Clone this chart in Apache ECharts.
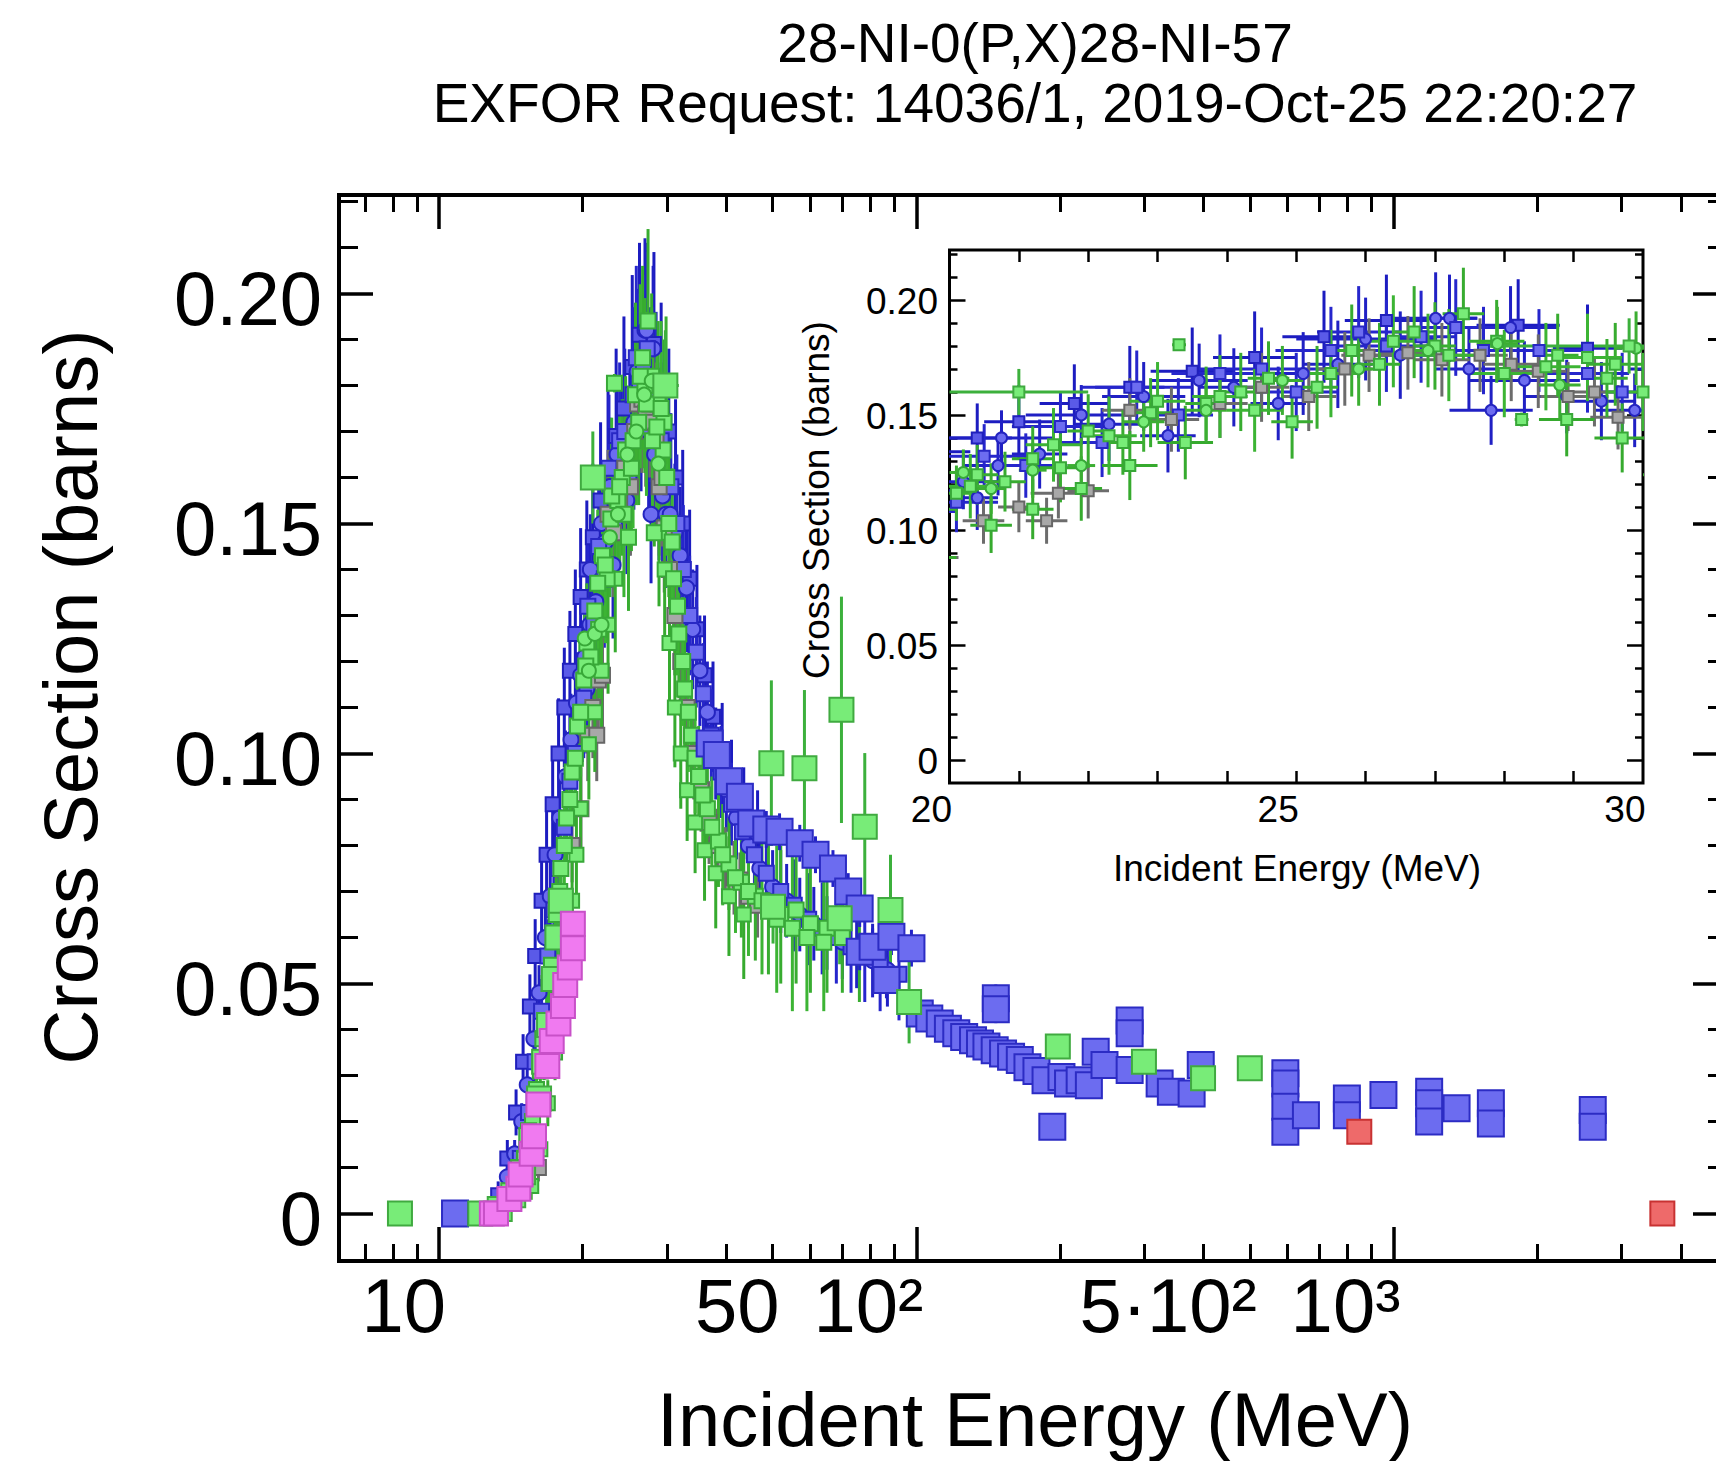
<!DOCTYPE html>
<html>
<head>
<meta charset="utf-8">
<script src="https://cdn.jsdelivr.net/npm/echarts@6/dist/echarts.min.js"></script>
<style>
html,body{margin:0;padding:0;background:#fff;}
#chart{width:1716px;height:1461px;}
</style>
</head>
<body>
<div id="chart"></div>
<script>
// ---------------- texts ----------------
const titleLines = ['28-NI-0(P,X)28-NI-57', 'EXFOR Request: 14036/1, 2019-Oct-25 22:20:27'];
const xAxisTitle = 'Incident Energy (MeV)';
const yAxisTitle = 'Cross Section (barns)';

// ---------------- tick values / labels ----------------
const xTickValues = [10, 50, 100, 500, 1000];
const xTickLabels = ['10', '50', '10²', '5·10²', '10³'];
const xMajorTicks = [10, 100, 1000];
const xMinorTicks = [7, 8, 9, 20, 30, 40, 50, 60, 70, 80, 90, 200, 300, 400, 500, 600, 700, 800, 900, 2000, 3000, 4000];
const yTickValues = [0, 0.05, 0.10, 0.15, 0.20];
const yTickLabels = ['0', '0.05', '0.10', '0.15', '0.20'];
const yMinorTicks = [0.01, 0.02, 0.03, 0.04, 0.06, 0.07, 0.08, 0.09, 0.11, 0.12, 0.13, 0.14, 0.16, 0.17, 0.18, 0.19, 0.21, 0.22];
const insetXTickValues = [20, 25, 30];
const insetXTickLabels = ['20', '25', '30'];
const insetXMinorTicks = [21, 22, 23, 24, 25, 26, 27, 28, 29];

// ---------------- data: [E (MeV), sigma (b), dSigma, dE] ----------------
const blueDense = [
  [13.9,0.008,0.003,0.3],[14.4,0.013,0.003,0.3],[14.9,0.020,0.004,0.3],[15.3,0.028,0.005,0.3],
  [15.8,0.038,0.006,0.3],[16.2,0.048,0.006,0.3],[16.7,0.060,0.007,0.3],[17.1,0.069,0.008,0.3],
  [17.5,0.078,0.008,0.3],[17.9,0.086,0.009,0.3],[18.4,0.095,0.010,0.3],[18.9,0.103,0.010,0.3],
  [19.4,0.111,0.011,0.4],[19.8,0.117,0.011,0.4],[20.2,0.121,0.012,0.5],[20.4,0.114,0.014,0.3],
  [20.75,0.140,0.012,0.75],[20.7,0.128,0.013,0.5],[21.3,0.133,0.015,0.4],[21.9,0.150,0.013,0.8],
  [22.3,0.146,0.016,0.5],[22.8,0.158,0.015,0.6],[23.15,0.141,0.016,0.4],[23.6,0.165,0.016,0.7],
  [24.1,0.162,0.017,0.5],[24.74,0.155,0.016,0.4],[25.1,0.168,0.018,0.6],[25.6,0.172,0.019,0.5],
  [26.0,0.183,0.018,1.0],[26.5,0.176,0.019,0.5],[27.01,0.192,0.020,0.6],[27.21,0.192,0.019,0.4],
  [27.49,0.170,0.018,0.5],[27.81,0.152,0.015,0.6],[28.09,0.188,0.018,0.7],[28.29,0.165,0.017,0.8],
  [28.9,0.158,0.016,0.6],[29.4,0.156,0.017,0.5],[29.88,0.152,0.016,0.6],[30.5,0.152,0.016,0.5],
  [31.2,0.148,0.015,0.5],[32.0,0.143,0.015,0.5],[33.0,0.136,0.014,0.5],[34.0,0.127,0.013,0.5],
  [35.2,0.118,0.012,0.5],[36.5,0.109,0.011,0.5],[38.0,0.100,0.010,0.5],[40.0,0.092,0.009,0.5],
  [42.0,0.086,0.009,0.5],[44.5,0.080,0.008,0.5],[47.0,0.075,0.008,0.5],[50.0,0.071,0.008,0.5],
  [53.5,0.068,0.008,0.5],[57.0,0.065,0.008,0.5],[61.0,0.063,0.008,0.5],[65.0,0.061,0.008,0.5],
  [70.0,0.059,0.008,0.5],[75.0,0.057,0.008,0.5],[81.0,0.055,0.008,0.5],[87.0,0.053,0.008,0.5]
];
const blueDense2 = [
  [14.2,0.004,0.003,0.2],[14.8,0.012,0.004,0.2],[15.4,0.022,0.005,0.2],[15.9,0.033,0.006,0.2],
  [16.4,0.044,0.007,0.3],[16.9,0.056,0.008,0.3],[17.4,0.066,0.009,0.3],[17.8,0.075,0.009,0.3],
  [18.3,0.084,0.010,0.3],[18.8,0.094,0.011,0.3],[19.3,0.100,0.012,0.3],[19.7,0.108,0.012,0.4],
  [20.1,0.112,0.013,0.6],[20.5,0.132,0.014,0.8],[21.1,0.128,0.014,0.6],[21.6,0.145,0.015,0.7],
  [22.2,0.138,0.015,0.6],[22.7,0.162,0.016,0.8],[23.3,0.150,0.016,0.5],[23.9,0.168,0.017,0.7],
  [24.5,0.170,0.018,0.9],[25.0,0.160,0.017,0.6],[25.5,0.178,0.019,0.8],[25.9,0.186,0.020,0.6],
  [26.3,0.180,0.020,0.7],[26.8,0.184,0.020,0.5],[27.3,0.188,0.021,0.6],[27.7,0.178,0.019,0.5],
  [28.5,0.178,0.018,0.7],[29.2,0.168,0.017,0.6],[29.7,0.160,0.017,0.5],[30.6,0.158,0.016,0.4],
  [31.5,0.150,0.015,0.4],[32.5,0.140,0.014,0.4],[33.5,0.130,0.013,0.4],[34.6,0.122,0.012,0.4],
  [35.8,0.113,0.011,0.4],[37.2,0.104,0.010,0.4],[39.0,0.096,0.010,0.4],[41.0,0.089,0.009,0.5],
  [43.2,0.083,0.009,0.5],[45.8,0.078,0.009,0.5],[48.5,0.074,0.009,0.5],[52.0,0.070,0.009,0.5],
  [55.5,0.067,0.010,0.5],[59.5,0.064,0.010,0.5],[63.5,0.062,0.010,0.5],[68.0,0.060,0.010,0.5],
  [73.0,0.058,0.010,0.5],[78.0,0.056,0.010,0.5],[84.0,0.054,0.010,0.5],[92.0,0.052,0.010,0.5]
];
const blueEdge = [
  [13.3,0.004,0.003,0.3],[13.9,0.012,0.004,0.3],[14.5,0.022,0.005,0.3],[15.0,0.033,0.006,0.3],
  [15.5,0.045,0.007,0.3],[15.9,0.056,0.008,0.3],[16.4,0.068,0.009,0.3],[16.8,0.078,0.010,0.3],
  [17.3,0.089,0.011,0.3],[17.8,0.100,0.012,0.4],[18.3,0.110,0.013,0.4],[18.8,0.118,0.013,0.4],
  [19.3,0.126,0.014,0.4],[19.8,0.134,0.015,0.5],[20.4,0.140,0.015,0.5],[21.0,0.147,0.016,0.5],
  [21.8,0.155,0.017,0.5],[22.6,0.162,0.018,0.5],[23.5,0.169,0.019,0.6],[24.4,0.175,0.020,0.6],
  [25.4,0.184,0.020,0.6],[26.3,0.191,0.020,0.6],[28.2,0.189,0.020,0.6],[29.2,0.179,0.019,0.5],
  [30.3,0.170,0.018,0.5],[31.3,0.160,0.017,0.5],[32.4,0.150,0.016,0.5],[33.5,0.138,0.015,0.5],
  [34.7,0.127,0.014,0.5],[36.0,0.117,0.013,0.5],[37.5,0.108,0.012,0.5],[39.2,0.100,0.011,0.5],
  [41.0,0.093,0.010,0.5],[43.5,0.087,0.010,0.5],[46.5,0.082,0.010,0.5]
];
const grayDense = [
  [16.15,0.010,0.003,0.2],[17.6,0.068,0.007,0.2],[19.0,0.080,0.008,0.3],[19.83,0.088,0.009,0.3],
  [20.49,0.104,0.010,0.3],[21.0,0.110,0.011,0.3],[21.4,0.104,0.010,0.3],[21.57,0.116,0.011,0.4],
  [22.0,0.117,0.012,0.3],[22.6,0.152,0.014,0.4],[23.2,0.148,0.014,0.4],[23.9,0.155,0.015,0.4],
  [24.5,0.162,0.015,0.4],[25.18,0.158,0.015,0.4],[25.7,0.170,0.016,0.4],[26.05,0.176,0.016,0.4],
  [26.61,0.177,0.016,0.4],[27.1,0.174,0.016,0.4],[27.65,0.176,0.016,0.4],[28.1,0.172,0.016,0.4],
  [28.49,0.169,0.016,0.4],[28.92,0.158,0.015,0.4],[29.3,0.160,0.015,0.4],[29.64,0.149,0.014,0.4],
  [30.4,0.140,0.014,0.4],[31.2,0.130,0.013,0.4],[32.1,0.120,0.012,0.4],[33.1,0.110,0.011,0.4],
  [34.2,0.100,0.010,0.4],[35.4,0.092,0.009,0.4],[36.8,0.085,0.009,0.4],[38.2,0.080,0.008,0.4],
  [39.8,0.076,0.008,0.4],[41.5,0.073,0.008,0.4],[42.7,0.0725,0.006,0.5],[44.5,0.069,0.007,0.5],
  [46.5,0.067,0.007,0.5]
];
const greenDense = [
  [12.8,0.000,0.002,0.2],[13.6,0.002,0.002,0.2],[14.4,0.006,0.003,0.2],[15.1,0.012,0.004,0.2],
  [15.7,0.020,0.005,0.2],[16.3,0.031,0.006,0.2],[16.8,0.042,0.007,0.2],[17.2,0.054,0.008,0.2],
  [17.6,0.065,0.008,0.2],[18.0,0.075,0.009,0.2],[18.5,0.086,0.010,0.2],[19.0,0.096,0.011,0.2],
  [19.5,0.106,0.012,0.2],[20.1,0.116,0.012,0.3],[20.4,0.124,0.013,0.3],[20.8,0.121,0.013,0.3],
  [21.2,0.131,0.014,0.3],[21.6,0.127,0.015,0.3],[22.0,0.143,0.016,0.3],[22.5,0.138,0.014,0.3],
  [22.9,0.151,0.015,0.3],[23.31,0.1805,0.002,0.1],[23.7,0.155,0.016,0.3],[24.2,0.160,0.017,0.3],
  [24.6,0.166,0.016,0.3],[24.94,0.147,0.016,0.3],[25.3,0.162,0.018,0.3],[25.8,0.178,0.020,0.3],
  [26.2,0.172,0.018,0.3],[26.7,0.186,0.020,0.3],[27.0,0.180,0.019,0.3],[27.41,0.194,0.020,0.3],
  [27.89,0.182,0.018,0.4],[28.25,0.148,0.003,0.1],[28.77,0.176,0.018,0.3],[29.48,0.166,0.017,0.3],
  [29.6,0.172,0.018,0.4],[30.3,0.150,0.016,0.3],[31.0,0.138,0.015,0.3],[31.8,0.126,0.014,0.3],
  [32.7,0.114,0.013,0.3],[33.8,0.104,0.012,0.3],[35.0,0.095,0.011,0.3],[36.5,0.088,0.010,0.3],
  [38.5,0.081,0.010,0.3],[40.5,0.076,0.010,0.3],[43.0,0.072,0.012,0.3],[46.0,0.069,0.014,0.4],
  [49.0,0.067,0.015,0.4],[52.0,0.065,0.015,0.4],[56.0,0.066,0.016,0.4],[60.0,0.063,0.015,0.4],
  [65.0,0.062,0.014,0.4],[70.0,0.060,0.012,0.4],[76.0,0.058,0.012,0.4]
];
const greenDense2 = [
  [13.2,0.001,0.002,0.2],[14.0,0.004,0.003,0.2],[14.7,0.010,0.004,0.2],[15.4,0.018,0.005,0.2],
  [16.0,0.027,0.006,0.2],[16.5,0.038,0.007,0.2],[17.0,0.050,0.008,0.2],[17.5,0.061,0.009,0.2],
  [17.9,0.070,0.010,0.3],[18.3,0.080,0.011,0.3],[18.8,0.090,0.012,0.3],[19.3,0.099,0.013,0.3],
  [19.8,0.109,0.014,0.3],[20.3,0.119,0.014,0.4],[21.5,0.137,0.016,0.4],[22.3,0.141,0.017,0.4],
  [23.0,0.156,0.017,0.4],[23.9,0.158,0.018,0.4],[24.4,0.152,0.018,0.4],[25.5,0.168,0.019,0.4],
  [26.4,0.182,0.020,0.5],[27.2,0.176,0.020,0.5],[28.0,0.168,0.019,0.5],[28.6,0.171,0.019,0.5],
  [29.2,0.175,0.019,0.5],[30.0,0.160,0.017,0.5],[30.8,0.146,0.016,0.4],[31.6,0.132,0.015,0.4],
  [32.4,0.120,0.014,0.4],[33.3,0.109,0.013,0.4],[34.4,0.099,0.012,0.4],[35.7,0.091,0.011,0.4],
  [37.3,0.084,0.011,0.4],[39.3,0.078,0.011,0.4],[41.8,0.073,0.012,0.4],[44.5,0.070,0.014,0.4],
  [47.5,0.068,0.016,0.4],[51.0,0.064,0.016,0.4],[55.0,0.062,0.018,0.4],[59.0,0.060,0.016,0.4],
  [64.0,0.059,0.015,0.4]
];
const greenEdge = [
  [15.6,0.006,0.003,0.2],[16.3,0.014,0.004,0.2],[16.9,0.024,0.005,0.2],[17.5,0.035,0.006,0.2],
  [18.0,0.046,0.007,0.3],[18.5,0.057,0.008,0.3],[19.0,0.068,0.009,0.3],[19.4,0.078,0.010,0.3],
  [19.8,0.088,0.011,0.3],[20.6,0.102,0.012,0.3],[21.2,0.109,0.013,0.3],[21.9,0.118,0.014,0.3],
  [22.6,0.128,0.015,0.4],[23.4,0.138,0.016,0.4],[28.9,0.148,0.016,0.4],[29.7,0.140,0.015,0.4],
  [30.4,0.124,0.014,0.4],[31.2,0.110,0.013,0.4],[32.1,0.100,0.012,0.4],[33.1,0.092,0.011,0.4],
  [34.4,0.085,0.011,0.4],[36.0,0.079,0.011,0.4],[38.0,0.074,0.012,0.4],[40.5,0.069,0.013,0.4],
  [43.5,0.065,0.014,0.4]
];
const greenCircles = [
  [20.2,0.125,0.010,0.2],[20.6,0.118,0.011,0.2],[21.2,0.126,0.012,0.2],[21.9,0.128,0.012,0.2],
  [22.8,0.147,0.013,0.3],[23.7,0.152,0.014,0.3],[24.8,0.165,0.015,0.3],[25.9,0.170,0.016,0.3],
  [26.9,0.178,0.016,0.3],[27.9,0.181,0.016,0.3],[28.8,0.163,0.015,0.3],[29.9,0.179,0.016,0.3]
];
const blueBig = [
  [10.8,0.000,0.001,0.6],[36.9,0.1022,0.004,0],[38.2,0.0997,0.004,0],[40.5,0.0940,0.004,0],
  [42.7,0.0906,0.004,0],[45.1,0.0848,0.004,0],[48.5,0.0835,0.004,0],[51.7,0.0830,0.004,0],
  [57.0,0.0805,0.004,0],[61.5,0.0780,0.004,0],[66.9,0.0750,0.004,0],[72.0,0.0700,0.004,0],
  [76.1,0.0663,0.004,0],[76.1,0.0569,0.004,0],[81.0,0.0580,0.004,0],[86.6,0.0508,0.004,0],
  [88.7,0.0602,0.004,0],[97.7,0.0577,0.004,0],[101.7,0.0435,0.002,0],[106.5,0.0424,0.002,0],
  [112,0.0413,0.002,0],[116.5,0.0402,0.002,0],[121.3,0.0392,0.002,0],[126,0.0384,0.002,0],
  [131.5,0.0377,0.002,0],[136,0.0370,0.002,0],[140.3,0.0363,0.002,0],[146.8,0.0468,0.003,0],
  [146.8,0.0444,0.003,0],[146,0.0355,0.002,0],[152,0.0348,0.002,0],[158,0.0341,0.002,0],
  [164.8,0.0334,0.002,0],[171,0.0318,0.002,0],[178.6,0.0310,0.002,0],[186.6,0.0290,0.002,0],
  [192.8,0.0189,0.002,0],[201.5,0.0297,0.002,0],[208,0.0283,0.002,0],[220,0.0290,0.002,0],
  [230,0.0279,0.002,0],[237.7,0.0352,0.002,0],[248,0.0323,0.002,0],[280,0.0420,0.002,0],
  [280,0.0392,0.002,0],[280,0.0312,0.002,0],[323.6,0.0283,0.002,0],[341.6,0.0265,0.002,0],
  [377.6,0.0261,0.002,0],[394.6,0.0323,0.002,0],[593.6,0.0305,0.002,0],[593.6,0.0283,0.002,0],
  [593.6,0.0232,0.002,0],[593.6,0.0178,0.002,0],[655.5,0.0214,0.002,0],[798.7,0.0250,0.002,0],
  [798.7,0.0214,0.002,0],[952.8,0.0258,0.002,0],[1188,0.0265,0.002,0],[1188,0.0240,0.002,0],
  [1188,0.0200,0.002,0],[1356,0.0229,0.002,0],[1600,0.0240,0.002,0],[1600,0.0196,0.002,0],
  [2616,0.0225,0.002,0],[2616,0.0189,0.002,0]
];
const greenBig = [
  [8.28,0.000,0.001,0],[12.2,0.000,0.001,0],[13.4,0.001,0.001,0],[14.3,0.004,0.002,0],
  [15.0,0.009,0.002,0],[15.6,0.016,0.003,0],[16.2,0.025,0.003,0],[16.6,0.033,0.004,0],
  [17.0,0.041,0.004,0],[17.4,0.051,0.005,0],[17.7,0.060,0.005,0],[18.0,0.068,0.006,0],
  [21.0,0.160,0.010,1.0],[29.8,0.180,0.012,2.0],[49.7,0.0979,0.018,0],[50.1,0.0667,0.008,0],
  [58.3,0.0968,0.017,0],[69.1,0.0642,0.010,0],[69.7,0.1095,0.0246,0],[78.0,0.0841,0.016,0],
  [88.3,0.0660,0.012,0],[96.6,0.0460,0.009,0],[198,0.0363,0.002,0],[300,0.0330,0.002,0],
  [399,0.0294,0.003,0],[500,0.0316,0.002,0]
];
const magentaSet = [
  [12.9,0.000,0.001,0],[13.16,0.000,0.001,0],[14.04,0.0032,0.001,0],[14.66,0.0054,0.001,0],
  [14.82,0.0085,0.001,0],[15.63,0.0130,0.001,0],[15.81,0.0168,0.001,0],[16.15,0.0237,0.001,0],
  [16.86,0.0321,0.002,0],[17.22,0.0375,0.002,0],[17.79,0.0413,0.002,0],[18.18,0.0451,0.002,0],
  [18.38,0.0497,0.002,0],[18.79,0.0535,0.002,0],[19.07,0.0577,0.002,0],[19.07,0.0630,0.002,0]
];
const redSet = [[848,0.0178,0.001,0],[3660,0.000,0.001,0]];

// ---------------- styling / build ----------------
const FF = '"Liberation Sans", Arial, Helvetica, sans-serif';
const X_MIN = 6.17, X_MAX = 5000;
const Y_MIN = -0.0103, Y_MAX = 0.2214;
const IY_MIN = -0.0100, IY_MAX = 0.2217;
const L10 = v => Math.log10(v);

const styles = [
  {data: blueEdge,    line:'#1c1cc0', fill:'#5a5ae8', border:'#2020bc', symbol:'rect',   size:14},
  {data: blueDense,   line:'#2020c4', fill:'#6c6cf0', border:'#2424c0', symbol:'circle', size:15},
  {data: blueDense2,  line:'#2626cc', fill:'#6c6cf0', border:'#2828c4', symbol:'rect',   size:15},
  {data: grayDense,   line:'#6c6c6c', fill:'#a8a8a8', border:'#666666', symbol:'rect',   size:15},
  {data: greenEdge,   line:'#36aa2e', fill:'#78ec78', border:'#38a838', symbol:'rect',   size:14},
  {data: greenDense,  line:'#38ac30', fill:'#78ec78', border:'#38a838', symbol:'rect',   size:15},
  {data: greenDense2, line:'#3cb434', fill:'#78ec78', border:'#38a838', symbol:'rect',   size:15},
  {data: greenCircles,line:'#3cae32', fill:'#78ec78', border:'#38a838', symbol:'circle', size:14},
  {data: blueBig,     line:'#2222c8', fill:'#6c6cf0', border:'#2c2cc4', symbol:'rect',   size:26},
  {data: greenBig,    line:'#3cb03c', fill:'#78ec78', border:'#40aa40', symbol:'rect',   size:24},
  {data: magentaSet,  line:'#c850c8', fill:'#f07af0', border:'#c850c8', symbol:'rect',   size:24},
  {data: redSet,      line:'#c83232', fill:'#ee6a6a', border:'#c83232', symbol:'rect',   size:24}
];

function errSeries(rows, xi, yi, color, lw) {
  return {
    type:'custom', xAxisIndex:xi, yAxisIndex:yi, clip:true, silent:true,
    data: rows.map(r => [r[0], r[1], r[2], r[3]]),
    encode:{x:0, y:1},
    renderItem(params, api) {
      const E = api.value(0), s = api.value(1), ds = api.value(2), dE = api.value(3);
      const ch = [];
      if (ds > 0) {
        const a = api.coord([E, s - ds]), b = api.coord([E, s + ds]);
        ch.push({type:'line', shape:{x1:a[0], y1:a[1], x2:b[0], y2:b[1]}, style:{stroke:color, lineWidth:lw}});
      }
      if (dE > 0) {
        const a = api.coord([E - dE, s]), b = api.coord([E + dE, s]);
        ch.push({type:'line', shape:{x1:a[0], y1:a[1], x2:b[0], y2:b[1]}, style:{stroke:color, lineWidth:lw}});
      }
      return {type:'group', children:ch};
    }
  };
}
function markSeries(st, xi, yi, size) {
  return {
    type:'scatter', xAxisIndex:xi, yAxisIndex:yi, clip:true, silent:true,
    symbol: st.symbol, symbolSize: size,
    data: st.data.map(r => [r[0], r[1]]),
    itemStyle:{color: st.fill, borderColor: st.border, borderWidth: 2, opacity:1}
  };
}

const series = [];
styles.forEach(st => {
  series.push(errSeries(st.data, 0, 0, st.line, 3));
  series.push(markSeries(st, 0, 0, st.size));
});
styles.forEach(st => {
  series.push(errSeries(st.data, 5, 4, st.line, 3));
  series.push(markSeries(st, 5, 4, 11));
});

const noLine = {show:false, onZero:false};
function tickAxisX(grid, pos, min, max, vals, len, w) {
  return {type:'value', gridIndex:grid, position:pos, min:min, max:max,
    axisLine:noLine, splitLine:{show:false}, axisLabel:{show:false},
    axisTick:{show:true, inside:true, length:len, lineStyle:{color:'#000', width:w}, customValues:vals}};
}
function tickAxisY(grid, pos, min, max, vals, len, w) {
  return {type:'value', gridIndex:grid, position:pos, min:min, max:max,
    axisLine:noLine, splitLine:{show:false}, axisLabel:{show:false},
    axisTick:{show:true, inside:true, length:len, lineStyle:{color:'#000', width:w}, customValues:vals}};
}

const lxMin = L10(X_MIN), lxMax = L10(X_MAX);
const xAxis = [
  {type:'log', logBase:10, gridIndex:0, min:X_MIN, max:X_MAX, show:false, axisLine:noLine},          // 0 data
  tickAxisX(0, 'bottom', lxMin, lxMax, xMinorTicks.map(L10), 17, 3),                                   // 1
  tickAxisX(0, 'bottom', lxMin, lxMax, xMajorTicks.map(L10), 34, 3.5),                                 // 2
  tickAxisX(0, 'top', lxMin, lxMax, xMinorTicks.map(L10), 17, 3),                                      // 3
  tickAxisX(0, 'top', lxMin, lxMax, xMajorTicks.map(L10), 34, 3.5),                                    // 4
  tickAxisX(1, 'bottom', 20, 30, insetXMinorTicks, 12, 2.5),                                           // 5 inset data
  tickAxisX(1, 'top', 20, 30, insetXMinorTicks, 12, 2.5),                                              // 6
  {type:'value', gridIndex:2, position:'bottom', min:lxMin, max:lxMax, axisLine:noLine,                 // 7 labels
    splitLine:{show:false}, axisTick:{show:false},
    axisLabel:{show:true, customValues:xTickValues.map(L10), align:'right', margin:1,
      fontSize:76, fontFamily:FF, color:'#000', hideOverlap:false,
      formatter: v => { const i = xTickValues.findIndex(t => Math.abs(L10(t) - v) < 1e-9); return i >= 0 ? xTickLabels[i] : ''; }}},
  {type:'value', gridIndex:3, position:'bottom', min:20, max:30, axisLine:noLine,                      // 8 inset labels
    splitLine:{show:false}, axisTick:{show:false},
    axisLabel:{show:true, customValues:insetXTickValues, align:'right', margin:6,
      fontSize:37, fontFamily:FF, color:'#000', hideOverlap:false, showMinLabel:true, showMaxLabel:true,
      formatter: v => { const i = insetXTickValues.findIndex(t => Math.abs(t - v) < 1e-9); return i >= 0 ? insetXTickLabels[i] : ''; }}}
];
const yAxis = [
  tickAxisY(0, 'left', Y_MIN, Y_MAX, yTickValues, 34, 3.5),     // 0 data
  tickAxisY(0, 'left', Y_MIN, Y_MAX, yMinorTicks, 19, 3),       // 1
  tickAxisY(0, 'right', Y_MIN, Y_MAX, yTickValues, 34, 3.5),    // 2
  tickAxisY(0, 'right', Y_MIN, Y_MAX, yMinorTicks, 19, 3),      // 3
  tickAxisY(1, 'left', IY_MIN, IY_MAX, yTickValues, 16, 2.5),   // 4 inset data
  tickAxisY(1, 'left', IY_MIN, IY_MAX, yMinorTicks, 8, 2.5),    // 5
  tickAxisY(1, 'right', IY_MIN, IY_MAX, yTickValues, 16, 2.5),  // 6
  tickAxisY(1, 'right', IY_MIN, IY_MAX, yMinorTicks, 8, 2.5),   // 7
  {type:'value', gridIndex:2, position:'left', min:Y_MIN, max:Y_MAX, axisLine:noLine,   // 8 labels
    splitLine:{show:false}, axisTick:{show:false},
    axisLabel:{show:true, customValues:yTickValues, margin:24, fontSize:76, fontFamily:FF, color:'#000', hideOverlap:false,
      formatter: v => { const i = yTickValues.findIndex(t => Math.abs(t - v) < 1e-9); return i >= 0 ? yTickLabels[i] : ''; }}},
  {type:'value', gridIndex:3, position:'left', min:IY_MIN, max:IY_MAX, axisLine:noLine, // 9 inset labels
    splitLine:{show:false}, axisTick:{show:false},
    axisLabel:{show:true, customValues:yTickValues, margin:14, fontSize:37, fontFamily:FF, color:'#000', hideOverlap:false,
      formatter: v => { const i = yTickValues.findIndex(t => Math.abs(t - v) < 1e-9); return i >= 0 ? yTickLabels[i] : ''; }}}
];

const txt = (text, x, y, size, rot) => ({
  type:'text', x:x, y:y, rotation: rot || 0, z:100, silent:true,
  style:{text:text, fontSize:size, fontFamily:FF, fill:'#000', align:'center', verticalAlign:'middle'}
});

const option = {
  backgroundColor:'#fff',
  animation:false,
  textStyle:{fontFamily:FF},
  grid:[
    {left:339, top:195, width:1388, height:1066, show:true, borderColor:'#000', borderWidth:4, backgroundColor:'transparent', containLabel:false, outerBoundsMode:'none'},
    {left:949.5, top:250, width:693.5, height:533, show:true, borderColor:'#000', borderWidth:3, backgroundColor:'#fff', containLabel:false, outerBoundsMode:'none'},
    {left:346, top:200, width:1388, height:1066, show:false, containLabel:false, outerBoundsMode:'none'},
    {left:952, top:252, width:693.5, height:533, show:false, containLabel:false, outerBoundsMode:'none'}
  ],
  xAxis: xAxis,
  yAxis: yAxis,
  series: series,
  graphic:[
    txt(titleLines[0], 1035, 43, 55),
    txt(titleLines[1], 1035, 103, 55),
    txt(xAxisTitle, 1035, 1419, 76),
    txt(yAxisTitle, 70, 697, 76, Math.PI / 2),
    txt(xAxisTitle, 1297, 868, 37),
    txt(yAxisTitle, 816, 500, 37, Math.PI / 2)
  ]
};

const chart = echarts.init(document.getElementById('chart'), null, {renderer:'svg', width:1716, height:1461});
chart.setOption(option);
</script>
</body>
</html>
